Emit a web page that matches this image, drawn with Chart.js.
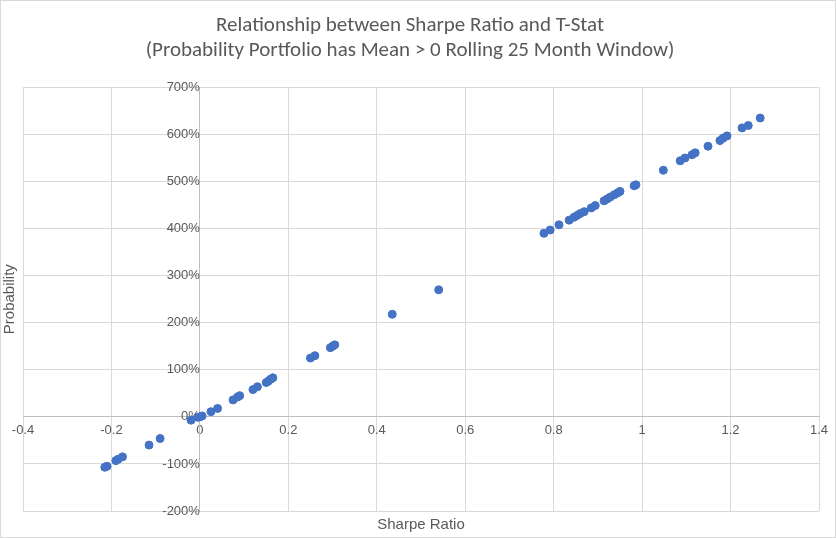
<!DOCTYPE html>
<html>
<head>
<meta charset="utf-8">
<script src="https://cdn.jsdelivr.net/npm/chart.js@4"></script>
<style>
  body { margin: 0; background: #fff; }
  #wrap { width: 834px; height: 536px; border: 1px solid #d9d9d9; }
</style>
</head>
<body>
<div id="wrap"><canvas id="chart" width="834" height="536"></canvas></div>
<script>
// Sharpe ratio values (x) and probability in % (y)
const sharpe = [-0.215, -0.21, -0.19, -0.185, -0.175, -0.115, -0.09, -0.02, -0.005, 0.0, 0.005,
  0.025, 0.04, 0.075, 0.085, 0.09, 0.12, 0.13, 0.15, 0.155, 0.16, 0.165, 0.25, 0.26, 0.295, 0.3,
  0.305, 0.435, 0.54, 0.778, 0.792, 0.812, 0.835, 0.846, 0.853, 0.86, 0.869, 0.885, 0.894, 0.914,
  0.921, 0.928, 0.937, 0.945, 0.95, 0.982, 0.986, 1.048, 1.086, 1.097, 1.113, 1.12, 1.149, 1.176,
  1.183, 1.192, 1.226, 1.24, 1.267];
const probability = [-107, -105, -93, -90, -85, -60, -46, -7, -1, 0, 2,
  11, 18, 36, 42, 45, 58, 64, 73, 76, 80, 83, 125, 130, 147, 150,
  153, 218, 270, 390, 397, 408, 418, 424, 428, 432, 436, 444, 449, 459,
  463, 467, 472, 476, 479, 491, 493, 524, 544, 550, 557, 561, 575, 587,
  592, 597, 614, 619, 635];

const xTicks = [-0.4, -0.2, 0, 0.2, 0.4, 0.6, 0.8, 1, 1.2, 1.4];

const points = sharpe.map((x, i) => ({ x: x, y: probability[i] }));
const grey = '#595959';

new Chart(document.getElementById('chart'), {
  type: 'scatter',
  data: {
    datasets: [{
      data: points,
      backgroundColor: '#4472C4',
      borderColor: '#4472C4',
      pointRadius: 4,
      pointHoverRadius: 4
    }]
  },
  options: {
    responsive: false,
    animation: false,
    layout: { padding: { left: 0, right: 16, top: 0, bottom: 26 } },
    plugins: {
      legend: { display: false },
      tooltip: { enabled: false },
      title: {
        display: true,
        text: ['Relationship between Sharpe Ratio and T-Stat',
               '(Probability Portfolio has Mean > 0 Rolling 25 Month Window)'],
        color: grey,
        font: { family: 'Calibri, Carlito, "Liberation Sans", sans-serif', size: 21, weight: 'normal' },
        padding: { top: 12, bottom: 24 }
      }
    },
    scales: {
      x: {
        type: 'linear', min: -0.4, max: 1.4,
        position: { y: 0 },
        afterBuildTicks: axis => { axis.ticks = xTicks.map(v => ({ value: v })); },
        ticks: { color: grey, font: { size: 13 }, padding: 6, callback: v => String(Math.round(v * 10) / 10) },
        grid: { color: ctx => ctx.tick && ctx.tick.value === 0 ? '#bfbfbf' : '#d9d9d9', drawTicks: false },
        border: { display: true, color: '#bfbfbf' }
      },
      y: {
        type: 'linear', min: -200, max: 700,
        position: { x: 0 },
        ticks: { stepSize: 100, color: grey, font: { size: 13 }, padding: 12, callback: v => v + '%' },
        grid: { color: ctx => ctx.tick && ctx.tick.value === 0 ? '#bfbfbf' : '#d9d9d9', drawTicks: false },
        border: { display: true, color: '#bfbfbf' }
      },
      x2: {
        type: 'linear', position: 'bottom', min: -0.4, max: 1.4,
        ticks: { display: false }, grid: { display: false }, border: { display: false },
        afterFit: axis => { axis.height = 0; },
        title: { display: false }
      },
      y2: {
        type: 'linear', position: 'left', min: -200, max: 700,
        ticks: { display: false }, grid: { display: false }, border: { display: false },
        afterFit: axis => { axis.width = 22; },
        title: { display: true, text: 'Probability', color: grey, font: { size: 15 }, padding: 0 }
      }
    }
  },
  plugins: [{
    id: 'xTitle',
    afterDraw: chart => {
      const c = chart.ctx, a = chart.chartArea;
      c.save();
      c.fillStyle = grey;
      c.font = '15px "Liberation Sans", sans-serif';
      c.textAlign = 'center';
      c.textBaseline = 'middle';
      c.fillText('Sharpe Ratio', (a.left + a.right) / 2, a.bottom + 14);
      c.restore();
    }
  }]
});
</script>
</body>
</html>
